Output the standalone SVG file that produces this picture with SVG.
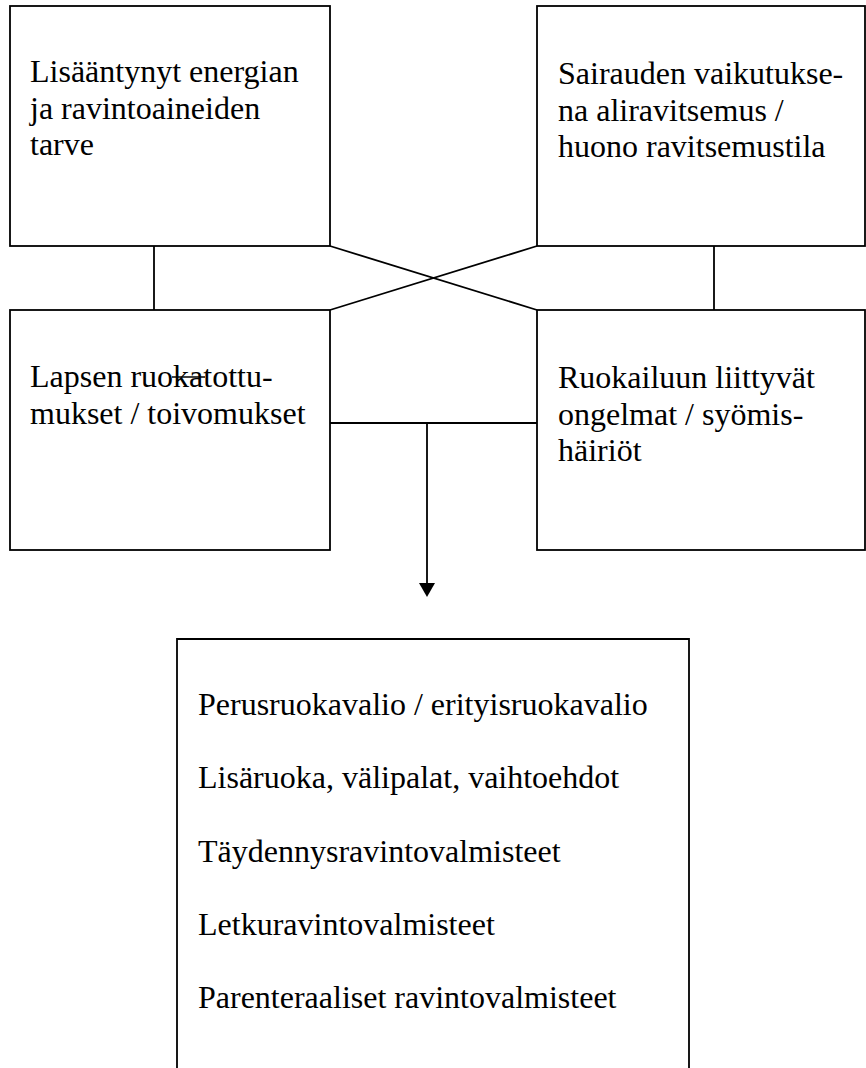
<svg xmlns="http://www.w3.org/2000/svg" width="866" height="1068" viewBox="0 0 866 1068">
<style>
.box{fill:#fff;stroke:#000;stroke-width:1.8}
.ln{fill:none;stroke:#000;stroke-width:1.8}
text{font-family:"Liberation Serif","Times New Roman",serif;font-size:32px;fill:#000}
</style>
<defs>
<marker id="arr" markerUnits="userSpaceOnUse" markerWidth="18" markerHeight="16" refX="8" refY="14" orient="auto" viewBox="0 0 16 16">
<path d="M0,0 L16,0 L8,14 Z" fill="#000" transform="rotate(-90 8 8)"/>
</marker>
</defs>
<rect width="866" height="1068" fill="#fff"/>
<g id="connectors">
<line class="ln" x1="154" y1="246" x2="154" y2="310"/>
<line class="ln" x1="714" y1="246" x2="714" y2="310"/>
<line class="ln" x1="330" y1="246" x2="537" y2="310"/>
<line class="ln" x1="537" y1="246" x2="330" y2="310"/>
<line class="ln" x1="330" y1="423" x2="537" y2="423"/>
<line class="ln" x1="427" y1="423" x2="427" y2="584"/>
<path d="M419,583 L435,583 L427,597 Z" fill="#000"/>
</g>
<g id="node-energia">
<rect class="box" x="10" y="6" width="320" height="240"/>
<text x="30" y="82">Lisääntynyt energian</text>
<text x="30" y="118.5">ja ravintoaineiden</text>
<text x="30" y="155">tarve</text>
</g>
<g id="node-sairaus">
<rect class="box" x="537" y="6" width="328" height="240"/>
<text x="558" y="84">Sairauden vaikutukse-</text>
<text x="558" y="120.5">na aliravitsemus /</text>
<text x="558" y="157">huono ravitsemustila</text>
</g>
<g id="node-tottumukset">
<rect class="box" x="10" y="310" width="320" height="240"/>
<text x="30" y="387">Lapsen ruokatottu-</text>
<text x="30" y="424">mukset / toivomukset</text>
<line x1="172" y1="377" x2="205" y2="377" stroke="#000" stroke-width="1.5"/>
</g>
<g id="node-ongelmat">
<rect class="box" x="537" y="310" width="328" height="240"/>
<text x="558" y="388">Ruokailuun liittyvät</text>
<text x="558" y="424.5">ongelmat / syömis-</text>
<text x="558" y="461">häiriöt</text>
</g>
<g id="node-ruokavalio">
<path class="box" d="M177,1075 V639 H689 V1075"/>
<text x="198" y="715">Perusruokavalio / erityisruokavalio</text>
<text x="198" y="788">Lisäruoka, välipalat, vaihtoehdot</text>
<text x="198" y="862">Täydennysravintovalmisteet</text>
<text x="198" y="935">Letkuravintovalmisteet</text>
<text x="198" y="1008">Parenteraaliset ravintovalmisteet</text>
</g>
</svg>
